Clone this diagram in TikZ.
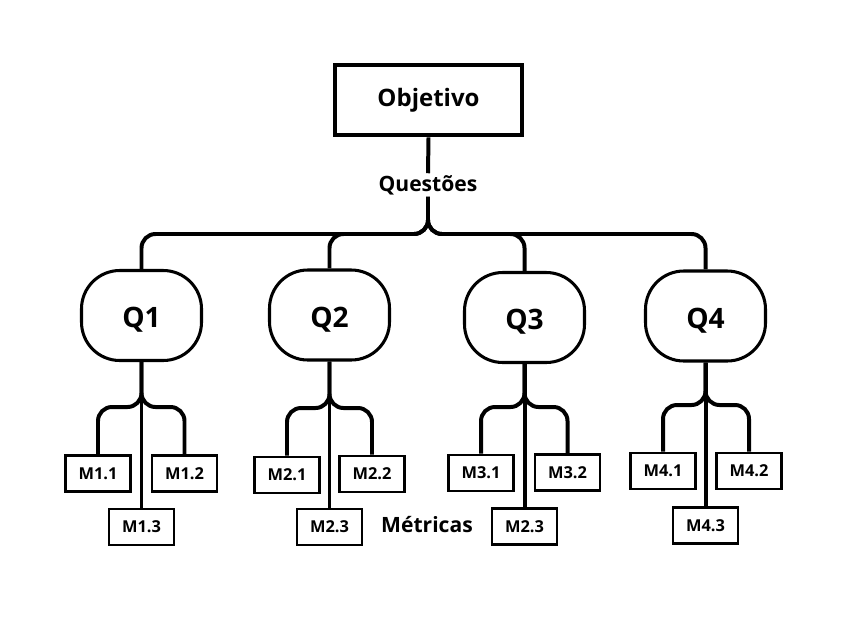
\documentclass[tikz,border=0pt]{standalone}
\usepackage{fontspec}
\setmainfont{Open Sans}
\usetikzlibrary{positioning, calc}
\colorlet{colTraco}{black}
\colorlet{colTexto}{black}
\tikzset{
  cajaObjetivo/.style={
    draw=colTraco, line width=4pt,
    minimum width=5.61cm, minimum height=2.1cm,
    text=colTexto, font=\fontsize{20.5}{24}\selectfont\bfseries
  },
  nodoQuestao/.style={
    draw=colTraco, line width=2.6pt, rounded corners=1.15cm,
    minimum width=3.6cm, minimum height=2.7cm,
    text height=25pt, text depth=4pt,
    text=colTexto, font=\fontsize{24}{28}\selectfont\bfseries
  },
  cajaMetrica/.style={
    draw=colTraco, line width=2.5pt, inner sep=0pt,
    minimum width=1.95cm, minimum height=1.08cm,
    text=colTexto, font=\fontsize{14}{16}\selectfont\bfseries
  },
  etiqueta/.style={font=\fontsize{18}{21}\selectfont\bfseries, text=colTexto, inner sep=1.5pt},
  conector/.style={draw=colTraco, line width=3.4pt, rounded corners=0.42cm},
}

\begin{document}
\begin{tikzpicture}[x=0.03cm, y=-0.03cm]
  \useasboundingbox (0,0) rectangle (852,634);

  \node[cajaObjetivo] (obj) at (428.5,100) {Objetivo};
  \node[etiqueta] (quest) at (428,185) {Questões};
  \coordinate (jq) at (428,234);

  % questoes
  \node[nodoQuestao] (q1) at (141.5,315.5) {Q1};
  \node[nodoQuestao] (q2) at (329.5,315) {Q2};
  \node[nodoQuestao] (q3) at (524.5,317.5) {Q3};
  \node[nodoQuestao] (q4) at (705.5,316) {Q4};

  % metricas
  \node[cajaMetrica] (m11) at (98,473.5) {M1.1};
  \node[cajaMetrica] (m12) at (184.5,473.5) {M1.2};
  \node[cajaMetrica] (m13) at (141.5,527) {M1.3};
  \node[cajaMetrica] (m21) at (287,475) {M2.1};
  \node[cajaMetrica] (m22) at (372,474) {M2.2};
  \node[cajaMetrica] (m23) at (329.5,527) {M2.3};
  \node[cajaMetrica] (m31) at (481,473) {M3.1};
  \node[cajaMetrica] (m32) at (567.5,472.5) {M3.2};
  \node[cajaMetrica] (m33) at (524.5,526.5) {M2.3};
  \node[cajaMetrica] (m41) at (663,471) {M4.1};
  \node[cajaMetrica] (m42) at (749,471) {M4.2};
  \node[cajaMetrica] (m43) at (705.5,525.5) {M4.3};
  \node[etiqueta] (metr) at (427,525) {Métricas};

  \coordinate (j1) at (141.5,407);
  \coordinate (j2) at (329.5,408);
  \coordinate (j3) at (524.5,407);
  \coordinate (j4) at (705.5,405);

  \draw[conector] (obj.south) -- (quest.north);
  \draw[conector] (quest.south) -- (jq) -| (q1.north);
  \draw[conector] (quest.south) -- (jq) -| (q2.north);
  \draw[conector] (quest.south) -- (jq) -| (q3.north);
  \draw[conector] (quest.south) -- (jq) -| (q4.north);

  \draw[conector] (q1.south) -- (j1) -| (m11.north);
  \draw[conector] (q1.south) -- (j1) -| (m12.north);
  \draw[conector] (q1.south) -- (m13.north);
  \draw[conector] (q2.south) -- (j2) -| (m21.north);
  \draw[conector] (q2.south) -- (j2) -| (m22.north);
  \draw[conector] (q2.south) -- (m23.north);
  \draw[conector] (q3.south) -- (j3) -| (m31.north);
  \draw[conector] (q3.south) -- (j3) -| (m32.north);
  \draw[conector] (q3.south) -- (m33.north);
  \draw[conector] (q4.south) -- (j4) -| (m41.north);
  \draw[conector] (q4.south) -- (j4) -| (m42.north);
  \draw[conector] (q4.south) -- (m43.north);
\end{tikzpicture}
\end{document}
